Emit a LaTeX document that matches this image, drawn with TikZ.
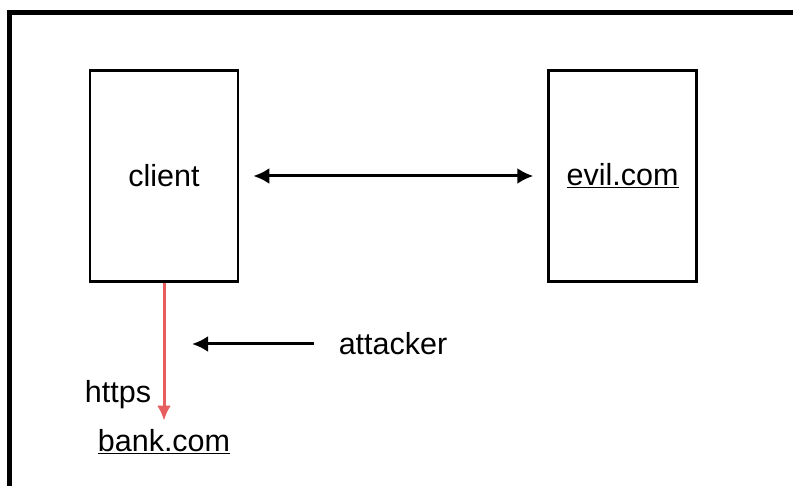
\documentclass[tikz,border=0pt]{standalone}
\usepackage{fontspec}
\setmainfont{Liberation Sans}
\usetikzlibrary{arrows.meta,positioning}
\definecolor{linkred}{RGB}{232,94,94}

\begin{document}
\begin{tikzpicture}[x=1pt,y=-1pt,font=\fontsize{30.5}{36}\selectfont, inner sep=2pt]
    \useasboundingbox (0,0) rectangle (793,486);
    % frame around the slide
    \draw[line width=5pt, line join=miter] (9,486) -- (9,13) -- (793,13);
    \node[rectangle, draw, line width=2.6pt, minimum width=148pt, minimum height=211pt] (client)
      at (164,176) {client};
    \node[right=308pt of client, rectangle, draw, line width=2.6pt, minimum width=148pt,
          minimum height=211pt] (evil) {\underline{evil.com}};
    \draw[{Latex[length=16pt,width=16pt]}-{Latex[length=16pt,width=16pt]}, line width=3pt,
          shorten <=14pt, shorten >=14pt] (client) -- (evil);
    \node (bank) at (164,442) {\underline{bank.com}};
    \node (https) at (118,395) {https};
    \draw[-{Latex[length=15pt,width=14pt]}, line width=3pt, linkred, shorten >=7pt]
      (client.south) -- (bank.north);
    \node (attacker) at (393,344) {attacker};
    \coordinate (hit) at (192,344);
    \draw[-{Latex[length=16pt,width=16pt]}, line width=3pt, shorten <=23pt] (attacker.west) -- (hit);
  \end{tikzpicture}
\end{document}
